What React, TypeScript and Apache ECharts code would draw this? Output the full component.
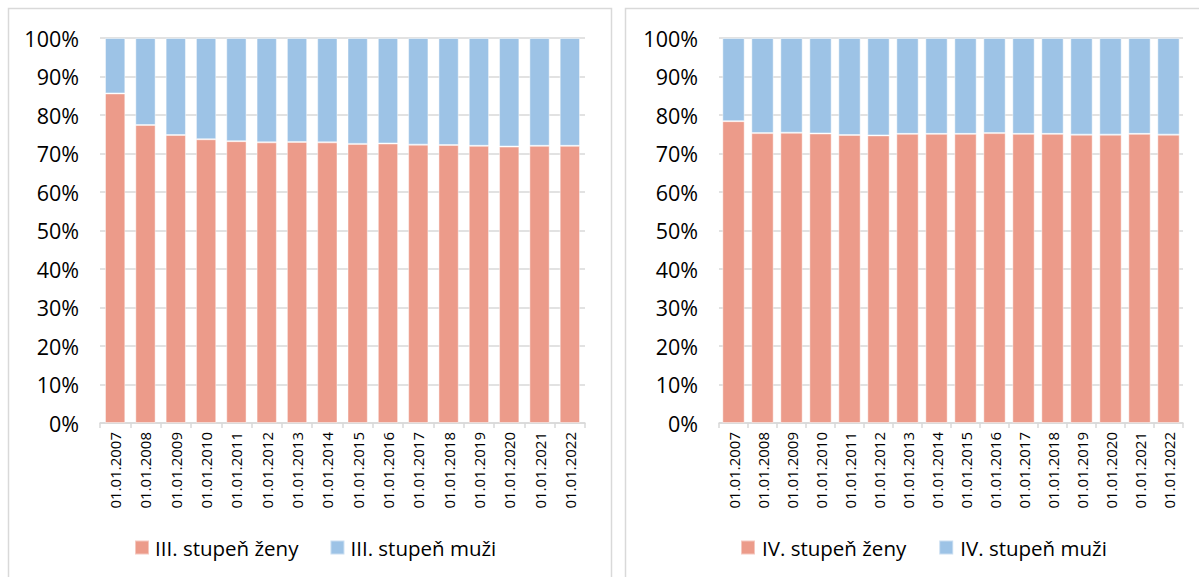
import React, { useEffect, useRef } from "react";
import * as echarts from "echarts";

const categories = [
  "01.01.2007", "01.01.2008", "01.01.2009", "01.01.2010", "01.01.2011", "01.01.2012",
  "01.01.2013", "01.01.2014", "01.01.2015", "01.01.2016", "01.01.2017", "01.01.2018",
  "01.01.2019", "01.01.2020", "01.01.2021", "01.01.2022",
];

const seriesNames = ["III. stupeň ženy", "III. stupeň muži", "IV. stupeň ženy", "IV. stupeň muži"];

const iiiWomen = [85.6, 77.4, 74.8, 73.7, 73.2, 72.9, 73.0, 72.9, 72.5, 72.6, 72.3, 72.2, 72.0, 71.8, 72.0, 72.0];
const iiiMen = [14.4, 22.6, 25.2, 26.3, 26.8, 27.1, 27.0, 27.1, 27.5, 27.4, 27.7, 27.8, 28.0, 28.2, 28.0, 28.0];
const ivWomen = [78.4, 75.3, 75.4, 75.2, 74.8, 74.7, 75.1, 75.1, 75.1, 75.3, 75.1, 75.1, 74.9, 74.9, 75.1, 74.9];
const ivMen = [21.6, 24.7, 24.6, 24.8, 25.2, 25.3, 24.9, 24.9, 24.9, 24.7, 24.9, 24.9, 25.1, 25.1, 24.9, 25.1];

const COLOR_W = "#EC9B8A";
const COLOR_M = "#9DC3E6";
const FONT = "Open Sans";

export default function App() {
  const ref = useRef<HTMLDivElement>(null);
  useEffect(() => {
    if (!ref.current) return;
    const chart = echarts.init(ref.current, null, { renderer: "svg" });
    const xAxisBase = (gridIndex: number) => ({
      type: "category" as const,
      gridIndex,
      data: categories,
      axisLine: { lineStyle: { color: "#d9d9d9", width: 1.5 } },
      axisTick: { show: true, length: 5, lineStyle: { color: "#d9d9d9", width: 1.5 } },
      axisLabel: { rotate: 90, fontSize: 15, fontFamily: FONT, color: "#000", margin: 9, interval: 0 },
    });
    const yAxisBase = (gridIndex: number) => ({
      type: "value" as const,
      gridIndex,
      min: 0,
      max: 100,
      interval: 10,
      axisLine: { show: false },
      axisTick: { show: false },
      splitLine: { lineStyle: { color: "#d9d9d9", width: 1.5 } },
      axisLabel: { formatter: "{value}%", fontSize: 21.5, fontFamily: FONT, color: "#000", margin: 21 },
    });
    const barBase = {
      type: "bar" as const,
      itemStyle: { borderColor: "rgba(255,255,255,0.45)", borderWidth: 1 },
    };
    chart.setOption({
      animation: false,
      backgroundColor: "#fff",
      textStyle: { fontFamily: FONT },
      grid: [
        { left: 100, right: 614, top: 38, bottom: 154 },
        { left: 719, right: 16, top: 38, bottom: 154 },
      ],
      xAxis: [xAxisBase(0), xAxisBase(1)],
      yAxis: [yAxisBase(0), yAxisBase(1)],
      legend: [
        {
          data: [seriesNames[0], seriesNames[1]],
          left: 129, top: 532, icon: "rect", itemWidth: 14, itemHeight: 14, itemGap: 31,
          textStyle: { fontSize: 20.5, fontFamily: FONT, color: "#000", padding: [0, 0, 0, 1] },
        },
        {
          data: [seriesNames[2], seriesNames[3]],
          left: 735, top: 532, icon: "rect", itemWidth: 14, itemHeight: 14, itemGap: 32,
          textStyle: { fontSize: 20.5, fontFamily: FONT, color: "#000", padding: [0, 0, 0, 2] },
        },
      ],
      graphic: [
        { type: "rect", shape: { x: 8.5, y: 8.5, width: 603, height: 600 }, style: { fill: "none", stroke: "#d9d9d9", lineWidth: 1.5 }, silent: true },
        { type: "rect", shape: { x: 625.5, y: 8.5, width: 600, height: 600 }, style: { fill: "none", stroke: "#d9d9d9", lineWidth: 1.5 }, silent: true },
      ],
      series: [
        { ...barBase, name: seriesNames[0], data: iiiWomen, stack: "a", xAxisIndex: 0, yAxisIndex: 0, barCategoryGap: "33%", itemStyle: { ...barBase.itemStyle, color: COLOR_W } },
        { ...barBase, name: seriesNames[1], data: iiiMen, stack: "a", xAxisIndex: 0, yAxisIndex: 0, barCategoryGap: "33%", itemStyle: { ...barBase.itemStyle, color: COLOR_M } },
        { ...barBase, name: seriesNames[2], data: ivWomen, stack: "b", xAxisIndex: 1, yAxisIndex: 1, barCategoryGap: "23%", itemStyle: { ...barBase.itemStyle, color: COLOR_W } },
        { ...barBase, name: seriesNames[3], data: ivMen, stack: "b", xAxisIndex: 1, yAxisIndex: 1, barCategoryGap: "23%", itemStyle: { ...barBase.itemStyle, color: COLOR_M } },
      ],
    });
    return () => chart.dispose();
  }, []);
  return <div ref={ref} style={{ position: "fixed", left: 0, top: 0, width: 1199, height: 577 }} />;
}
